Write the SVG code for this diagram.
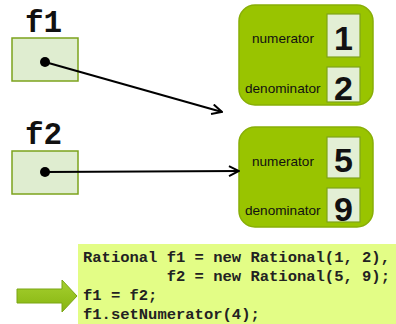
<svg xmlns="http://www.w3.org/2000/svg" width="396" height="324" viewBox="0 0 396 324">
  <defs>
    <style>
      .var-label { font-family: "Liberation Mono", "Courier New", monospace; font-weight: bold; font-size: 31px; fill: #111; }
      .ref-box { fill: #dfedd0; stroke: #7ca31c; stroke-width: 1.5; }
      .obj { fill: #99c400; stroke: #88ae06; stroke-width: 1.5; }
      .field { fill: #e3efd5; stroke: #7fa31a; stroke-width: 1.2; }
      .field-name { font-family: "Liberation Sans", Arial, sans-serif; font-size: 13.6px; fill: #111; }
      .digit { font-family: "Liberation Sans", Arial, sans-serif; font-weight: bold; font-size: 34px; fill: #111; text-anchor: middle; }
      .code { font-family: "Liberation Mono", "Courier New", monospace; font-weight: bold; font-size: 15.5px; fill: #222; }
      .link { stroke: #000; stroke-width: 2; fill: none; }
    </style>
    <marker id="open-arrow" viewBox="0 0 12 12" refX="11" refY="6" markerWidth="12" markerHeight="12" markerUnits="userSpaceOnUse" orient="auto">
      <path d="M1,1 L11,6 L1,11" fill="none" stroke="#000" stroke-width="2"/>
    </marker>
    <linearGradient id="arrow-fill" x1="0" y1="0" x2="0" y2="1">
      <stop offset="0" stop-color="#a6d030"/>
      <stop offset="1" stop-color="#86b510"/>
    </linearGradient>
  </defs>

  <!-- reference variable f1 -->
  <g id="f1">
    <text class="var-label" x="25" y="32">f1</text>
    <rect class="ref-box" x="12" y="38" width="66" height="43"/>
    <circle cx="45" cy="62" r="5" fill="#000"/>
  </g>

  <!-- reference variable f2 -->
  <g id="f2">
    <text class="var-label" x="25" y="144">f2</text>
    <rect class="ref-box" x="12" y="151" width="66" height="43"/>
    <circle cx="45" cy="172" r="5" fill="#000"/>
  </g>

  <!-- Rational object (1/2) -->
  <g id="rational-1-2">
    <rect class="obj" x="239" y="5" width="134" height="100" rx="16" ry="16"/>
    <text class="field-name" x="252" y="43">numerator</text>
    <rect class="field" x="327" y="14" width="33" height="43"/>
    <text class="digit" x="343.5" y="50">1</text>
    <text class="field-name" x="245" y="93">denominator</text>
    <rect class="field" x="327" y="67" width="33" height="35"/>
    <text class="digit" x="343.5" y="100">2</text>
  </g>

  <!-- Rational object (5/9) -->
  <g id="rational-5-9">
    <rect class="obj" x="239" y="127" width="134" height="100" rx="16" ry="16"/>
    <text class="field-name" x="252" y="166">numerator</text>
    <rect class="field" x="327" y="137" width="33" height="41"/>
    <text class="digit" x="343.5" y="172">5</text>
    <text class="field-name" x="245" y="215">denominator</text>
    <rect class="field" x="327" y="188" width="33" height="34"/>
    <text class="digit" x="343.5" y="221">9</text>
  </g>

  <!-- reference connectors -->
  <g id="connectors">
    <line class="link" x1="45" y1="62" x2="222" y2="112" marker-end="url(#open-arrow)"/>
    <line class="link" x1="45" y1="172" x2="239" y2="171" marker-end="url(#open-arrow)"/>
  </g>

  <!-- code listing -->
  <g id="code">
    <rect x="78" y="244" width="318" height="80" fill="#e3fd86"/>
    <text class="code" x="83" y="262">Rational f1 = new Rational(1, 2),</text>
    <text class="code" x="83" y="281" xml:space="preserve">         f2 = new Rational(5, 9);</text>
    <text class="code" x="83" y="300">f1 = f2;</text>
    <text class="code" x="83" y="319">f1.setNumerator(4);</text>
  </g>

  <!-- current-line pointer -->
  <g id="pointer">
    <path d="M17,289 L62,289 L62,280 L77,296 L62,312 L62,303 L17,303 Z" fill="url(#arrow-fill)" stroke="#7aa514" stroke-width="1"/>
  </g>
</svg>
